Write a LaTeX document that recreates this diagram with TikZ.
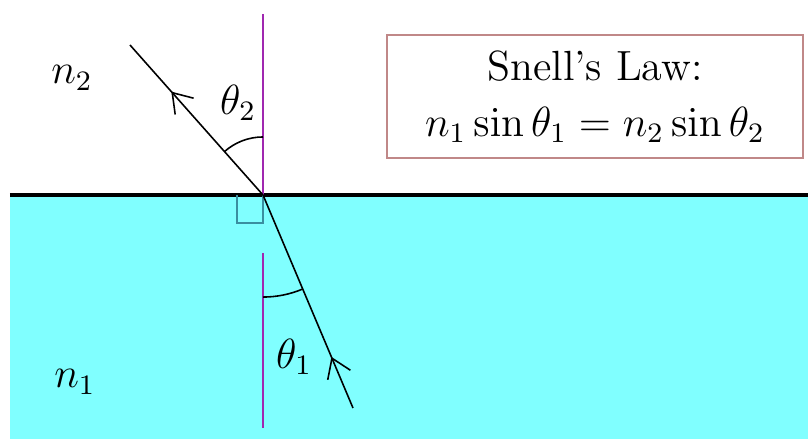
\documentclass[tikz,border=0pt]{standalone}
\usepackage{amsmath}
\usetikzlibrary{arrows.meta,decorations.markings,angles}
\definecolor{water}{HTML}{80FFFF}
\definecolor{normalc}{HTML}{A028B0}
\definecolor{lawframe}{HTML}{C08888}
\definecolor{corner}{HTML}{3A8FA0}
\tikzset{
  ray/.style={draw=black, line width=0.45pt},
  midarrow/.style={postaction={decorate},
    decoration={markings, mark=at position #1 with
      {\arrow{Straight Barb[length=5.2pt,width=7pt,line width=0.45pt]}}}},
  normalline/.style={draw=normalc, line width=0.7pt},
  surface/.style={draw=black, line width=0.9pt},
  lawbox/.style={draw=lawframe, fill=white, line width=0.7pt, align=center,
                 minimum width=4.16cm, minimum height=1.23cm, inner sep=0pt,
                 font=\large},
  medlabel/.style={font=\large, inner sep=1pt},
  anglearc/.style={draw=black, line width=0.45pt}
}

\begin{document}
\begin{tikzpicture}[x=0.01cm,y=0.01cm]
    \useasboundingbox (0,0) rectangle (808,439);

    % the two media
    \fill[water] (10,0) rectangle (808,244);
    \coordinate (O) at (263,244);
    \coordinate (left) at (10,244);
    \coordinate (right) at (808,244);
    \draw[surface] (left) -- (right);

    % normal to the surface
    \coordinate (top) at (263,425);
    \coordinate (gap) at (263,186);
    \coordinate (bot) at (263,11);
    \draw[normalline] (top) -- (O);
    \draw[normalline] (gap) -- (bot);
    \draw[draw=corner, line width=0.6pt] (237,244) -- (237,216) -- (263,216) -- (O);

    % the ray, from n1 into n2
    \coordinate (L) at (353,31);
    \coordinate (U) at (130,394);
    \draw[ray, midarrow=0.24] (L) -- (O);
    \draw[ray, midarrow=0.69] (O) -- (U);

    % angles
    \pic[anglearc, angle radius=0.58cm] {angle = top--O--U};
    \pic[anglearc, angle radius=1.02cm] {angle = bot--O--L};
    \node[medlabel] (th2) at (238,336) {$\theta_2$};
    \node[medlabel] (th1) at (294,82) {$\theta_1$};

    \node[medlabel] (n2) at (72,361) {$n_2$};
    \node[medlabel] (n1) at (75,57) {$n_1$};

    % the law
    \node[lawbox] (law) at (595,342.5)
      {Snell's Law:\\[2pt] $n_1\sin\theta_1 = n_2\sin\theta_2$};
\end{tikzpicture}
\end{document}
